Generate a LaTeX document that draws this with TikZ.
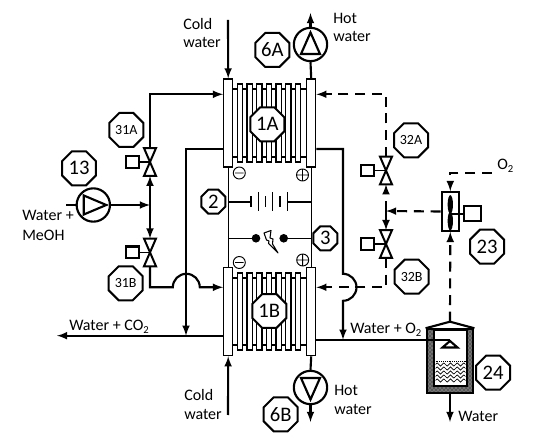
\documentclass[tikz,border=0pt]{standalone}
\usepackage{fontspec}
\setmainfont{Carlito}
\usetikzlibrary{calc,shapes.geometric,patterns,decorations.pathmorphing}
\tikzset{
  pipe/.style={line width=1.6pt},
  flow/.style={pipe,->,>=latex},
  gasflow/.style={flow,dash pattern=on 7.5pt off 5pt},
  wire/.style={line width=1pt},
  fin/.style={line width=0.8pt},
  tag/.style={draw,fill=white,line width=1.5pt,regular polygon,regular polygon sides=8,
    inner sep=0pt,minimum size=27.6pt},
  smalltag/.style={tag,minimum size=19.5pt},
  plate/.style={draw,fill=white,line width=0.9pt,minimum width=6.8pt,minimum height=66pt,inner sep=0pt},
  pump/.style={draw,fill=white,circle,line width=1.6pt,minimum size=25pt,inner sep=0pt},
  valve/.style={minimum width=8.6pt,minimum height=20.4pt,inner sep=0pt},
  motor/.style={draw,fill=white,line width=1.6pt,minimum width=9.6pt,minimum height=8.8pt,inner sep=0pt},
  label/.style={inner sep=0pt,anchor=west,font=\fontsize{12}{13}\selectfont},
}
\begin{document}
\begin{tikzpicture}[x=0.75pt,y=-0.75pt]
  \useasboundingbox (0,0) rectangle (550,438);

  % Cell stacks: fins first, end plates on top
  \foreach \cell/\ytop/\ybot/\ymid in {A/89/157/123, B/278/345/311.7} {
      \draw[fin] (233,\ytop) -- (307,\ytop) (233,\ybot) -- (307,\ybot);
      \foreach \x in {240,249.7,259.3,269,278.7,288.3,298} {
          \draw[fin,fill=white] (\x-2.7,\ytop-5) rectangle (\x+2.7,\ybot+5);
      }
      \node[plate] (plate\cell L) at (228.2,\ymid) {};
      \node[plate] (plate\cell R) at (311.2,\ymid) {};
  }

  % Pumps
  \node[pump] (pump6A) at (310.5,44.5) {};
  \node[pump] (pump6B) at (310.5,387.5) {};
  \node[pump] (pump13) at (93.3,205) {};
  \draw[line width=1.6pt] ($(pump6A)+(0,-12)$) -- ($(pump6A)+(9.5,9.5)$) -- ($(pump6A)+(-9.5,9.5)$) -- cycle;
  \draw[line width=1.6pt] ($(pump6B)+(0,12)$) -- ($(pump6B)+(9.5,-9.5)$) -- ($(pump6B)+(-9.5,-9.5)$) -- cycle;
  \draw[line width=1.6pt] ($(pump13)+(13,0)$) -- ($(pump13)+(-9.5,9.5)$) -- ($(pump13)+(-9.5,-9.5)$) -- cycle;

  % Valves with their actuators
  \foreach \v/\xv/\yv/\xm in {31A/150/162/132.5, 31B/150/252.4/132.5, 32A/386/170.5/367.3, 32B/386/244/367.3} {
      \node[valve] (valve\v) at (\xv,\yv) {};
      \node[motor] (motor\v) at (\xm,\yv) {};
      \draw[line width=1.3pt] (motor\v) -- (valve\v.center);
      \draw[line width=1.5pt,fill=white,line join=miter] (valve\v.north west) -- (valve\v.south east)
          -- (valve\v.south west) -- (valve\v.north east) -- cycle;
  }

  % Free ends and joints
  \coordinate (coldA) at (228,20);
  \coordinate (coldB) at (228,415);
  \coordinate (hotA) at (310.5,13);
  \coordinate (hotB) at (310.5,422);
  \coordinate (feed) at (66,205);
  \coordinate (joinL) at (150,205);
  \coordinate (joinR) at (386,211);
  \coordinate (outCO) at (57,335.7);
  \coordinate (outO) at (450,339.7);
  \coordinate (inO) at (491.7,173.3);
  \coordinate (drain) at (450,422);

  % Water side
  \draw[flow] (coldA) -- (plateAL.north);
  \draw[flow] (coldB) -- (plateBL.south);
  \draw[pipe] (plateAR.north) -- (pump6A.south);
  \draw[flow] (pump6A.north) -- (hotA);
  \draw[pipe] (plateBR.south) -- (pump6B.north);
  \draw[flow] (pump6B.south) -- (hotB);
  \draw[pipe] (feed) -- (pump13.west);
  \draw[flow] (pump13.east) -- (joinL);
  \draw[flow] (joinL) -- (valve31A.south);
  \draw[flow] (joinL) -- (valve31B.north);
  \draw[flow] (valve31A.north) |- (plateAL.west |- 0,94.3);
  \draw[flow] (valve31B.south) |- (172.8,287.3) arc (180:360:13.5) -- (plateBL.west |- 0,287.3);
  \draw[flow] (plateAL.west |- 0,149) -- (186,149) -- (186,335.7);
  \draw[flow] (plateBL.west |- outCO) -- (outCO);

  % Oxygen side
  \draw[flow] (plateAR.east |- 0,149) -- (343,149) -- (343,273.8) arc (-90:90:13.5) -- (343,339.7);
  \draw[gasflow] (valve32A.north) |- (plateAR.east |- 0,94.3);
  \draw[gasflow] (valve32B.south) |- (plateBR.east |- 0,287.3);
  \draw[gasflow] (joinR) -- (valve32A.south);
  \draw[gasflow] (joinR) -- (valve32B.north);

  % Blower
  \node[draw,fill=white,line width=1.6pt,minimum width=13pt,minimum height=29pt,inner sep=0pt] (blower) at (450.3,211.5) {};
  \node[motor,minimum width=12.8pt,minimum height=11.2pt] (motor23) at (472.5,213.7) {};
  \draw[pipe] (blower.center |- motor23) -- (motor23);
  \fill (450.3,204.5) ellipse (2pt and 7pt);
  \fill (450.3,221) ellipse (2pt and 7pt);
  \draw[gasflow] (inO) -| (blower.north);
  \draw[gasflow] (blower.west) -- (joinR);

  % Separator tank
  \node[draw,line width=1.6pt,preaction={fill=black!55},pattern=crosshatch dots,pattern color=black,minimum width=35pt,minimum height=47.5pt,inner sep=0pt] (tank) at (450,361) {};
  \node[draw,fill=white,line width=1.6pt,minimum width=24.5pt,minimum height=42pt,inner sep=0pt] (vessel) at (450.3,358.2) {};
  \coordinate (roof) at (450,321.7);
  \draw[pipe] (tank.north west) -- (roof) -- (tank.north east);
  \draw[gasflow] (roof) -- (blower.south);
  \foreach \y in {364.5,368.5,372.5,376.5,380.5} {
      \draw[line width=0.5pt,decorate,decoration={zigzag,amplitude=1.2pt,segment length=5pt}] (435.5,\y) -- (465.5,\y);
  }
  \draw[line width=0.4pt,densely dotted] (435.5,361.7) -- (465.5,361.7);
  \draw[pipe] (plateBR.east |- outO) -- (outO);
  \draw[line width=1.6pt,fill=white] (450,341) -- (457.5,347.5) -- (442.5,347.5) -- cycle;
  \draw[flow] (tank.south) -- (drain);

  % Electrical connections
  \draw[wire] (plateAL.south) -- (plateBL.north);
  \draw[wire] (plateAR.south) -- (plateBR.north);
  \draw[wire] (plateAL.south |- 0,202) -- (251,202);
  \draw[wire] (287.7,202) -- (plateAR.south |- 0,202);
  \foreach \x/\h in {251/5.5,258.7/9.5,265.7/5.5,272.7/9.5,280/5.5,287.7/9.5} {
      \draw[wire] (\x,202-\h) -- (\x,202+\h);
  }
  \fill (256,238.3) circle (4.3);
  \fill (283.7,238.3) circle (4.3);
  \draw[wire] (plateAL.south |- 0,238.3) -- (256,238.3);
  \draw[wire] (283.7,238.3) -- (plateAR.south |- 0,238.3);
  \draw[line width=0.8pt,fill=white,line join=round] (264,233) -- (271,230.5) -- (270,238) -- (273,239)
      -- (272.5,244) -- (278,253) -- (268.5,243.5) -- (269,241) -- (266.5,240) -- cycle;
  \draw[line width=0.7pt] (239.3,173) circle (6) (235,173) -- (243.5,173);
  \draw[line width=0.7pt] (302.5,175) circle (6) (296.5,175) -- (308.5,175) (302.5,169) -- (302.5,181);
  \draw[line width=0.7pt] (239.3,262.5) circle (6) (235,262.5) -- (243.5,262.5);
  \draw[line width=0.7pt] (302.7,260) circle (6) (296.7,260) -- (308.7,260) (302.7,254) -- (302.7,266);

  % Numbered tags
  \foreach \n/\x/\y in {1A/267.3/124.3, 1B/269.3/311, 6A/272.3/50, 6B/280.7/414.3, 13/79/168.3, 23/487/246.7, 24/493/372.7} {
      \node[tag,font=\fontsize{15.5}{16}\selectfont] (tag\n) at (\x,\y) {\n};
  }
  \foreach \n/\x/\y in {31A/126.3/130, 31B/125.7/283.3, 32A/411/140.3, 32B/411.7/276.7} {
      \node[tag,font=\fontsize{10.5}{11}\selectfont] (tag\n) at (\x,\y) {\n};
  }
  \node[smalltag,font=\fontsize{15.5}{16}\selectfont] (tag2) at (213.3,201.7) {2};
  \node[smalltag,font=\fontsize{15.5}{16}\selectfont] (tag3) at (325.3,238.3) {3};

  % Stream labels
  \node[label] (lblColdA) at (183,24) {Cold};
  \node[label] (lblColdB) at (183,43) {water};
  \node[label] (lblHotA) at (333,18) {Hot};
  \node[label] (lblHotB) at (333,37) {water};
  \node[label] (lblCold2A) at (184,395) {Cold};
  \node[label] (lblCold2B) at (184,414) {water};
  \node[label] (lblHot2A) at (334,390) {Hot};
  \node[label] (lblHot2B) at (334,409) {water};
  \node[label] (lblFeedA) at (22,215) {Water +};
  \node[label] (lblFeedB) at (22,235) {MeOH};
  \node[label] (lblCO) at (69,327) {Water + CO\textsubscript{2}};
  \node[label] (lblO) at (350,330) {Water + O\textsubscript{2}};
  \node[label] (lblOtwo) at (497,166) {O\textsubscript{2}};
  \node[label] (lblDrain) at (458,416) {Water};
\end{tikzpicture}
\end{document}
